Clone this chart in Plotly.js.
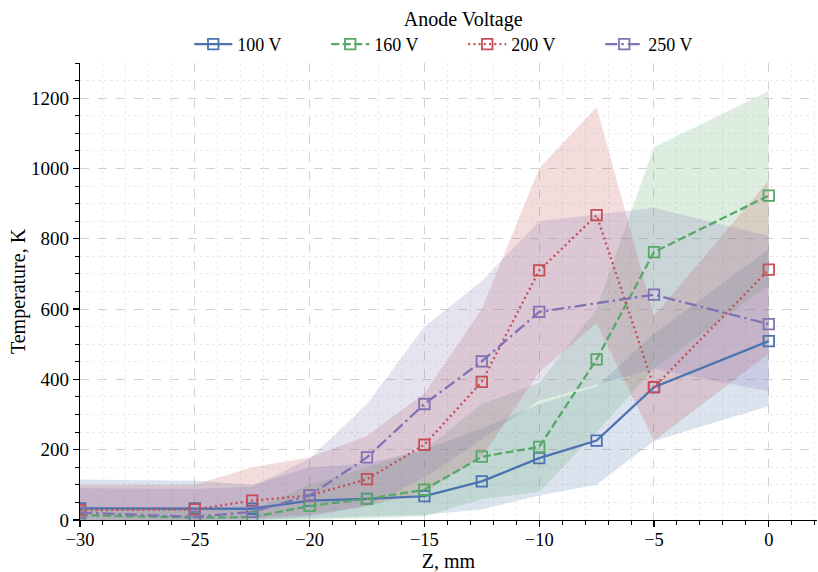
<!DOCTYPE html>
<html>
<head>
<meta charset="utf-8">
<script src="https://cdn.plot.ly/plotly-3.0.1.min.js"></script>
<style>html,body{margin:0;padding:0;background:#fff}#chart{width:818px;height:572px}</style>
</head>
<body>
<div id="chart"></div>
<script>
// Data
const zAll = [-30, -25, -22.5, -20, -17.5, -15, -12.5, -10, -7.5, -5, 0];
const z250 = [-30, -25, -22.5, -20, -17.5, -15, -12.5, -10, -5, 0];

const t100 = [33, 33, 32, 55, 60, 68, 110, 176, 226, 378, 509];
const lo100 = [0, 0, 0, 5, 10, 15, 30, 70, 100, 225, 324];
const hi100 = [115, 112, 100, 150, 160, 200, 260, 330, 380, 530, 770];

const t160 = [14, 7, 8, 40, 60, 86, 180, 208, 457, 762, 923];
const lo160 = [0, 0, 0, 0, 5, 10, 60, 80, 250, 430, 668];
const hi160 = [40, 30, 30, 100, 150, 200, 330, 390, 600, 1060, 1220];

const t200 = [28, 30, 55, 70, 116, 214, 393, 710, 867, 378, 712];
const lo200 = [0, 0, 5, 15, 40, 80, 180, 420, 560, 225, 473];
const hi200 = [100, 100, 150, 178, 240, 360, 600, 1000, 1175, 580, 966];

const t250 = [21, 9, 23, 70, 178, 330, 451, 592, 641, 557];
const lo250 = [0, 0, 0, 10, 40, 120, 230, 340, 430, 366];
const hi250 = [90, 88, 95, 175, 330, 550, 680, 850, 888, 808];

const seriesNames = ['100 V', '160 V', '200 V', '250 V'];
const colors = ['rgb(76,114,176)', 'rgb(85,168,104)', 'rgb(196,78,82)', 'rgb(129,114,179)'];
const fills = ['rgba(76,114,176,0.2)', 'rgba(85,168,104,0.2)', 'rgba(196,78,82,0.2)', 'rgba(129,114,179,0.2)'];
const dashes = ['solid', '8px,3.5px', '2px,3.2px', '12px,4px,2.5px,4px'];

const series = [
  {x: zAll, y: t100, lo: lo100, hi: hi100},
  {x: zAll, y: t160, lo: lo160, hi: hi160},
  {x: zAll, y: t200, lo: lo200, hi: hi200},
  {x: z250, y: t250, lo: lo250, hi: hi250}
];

const traces = [];
series.forEach((s, i) => {
  traces.push({
    x: s.x.concat(s.x.slice().reverse()),
    y: s.lo.concat(s.hi.slice().reverse()),
    type: 'scatter', mode: 'lines', fill: 'toself',
    fillcolor: fills[i], line: {width: 0, color: fills[i]},
    hoverinfo: 'skip', showlegend: false
  });
});
series.forEach((s, i) => {
  traces.push({
    x: s.x, y: s.y, type: 'scatter', mode: 'lines+markers',
    name: seriesNames[i],
    line: {color: colors[i], width: 2.3, dash: dashes[i]},
    marker: {symbol: 'square-open', size: 10.5, color: colors[i], line: {width: 1.8, color: colors[i]}}
  });
});

const font = 'Liberation Serif, Times New Roman, serif';
const layout = {
  width: 818, height: 572,
  margin: {l: 80, r: 1, t: 58, b: 52},
  paper_bgcolor: '#fff', plot_bgcolor: '#fff',
  font: {family: font, size: 18, color: '#000'},
  showlegend: true,
  legend: {
    orientation: 'h', xref: 'paper', x: 0.52, xanchor: 'center',
    yref: 'container', y: 1.0, yanchor: 'top',
    title: {text: 'Anode Voltage', side: 'top center', font: {family: font, size: 20}},
    font: {family: font, size: 18}, entrywidth: 84, itemwidth: 38,
    bgcolor: 'rgba(0,0,0,0)', tracegroupgap: 0
  },
  xaxis: {
    range: [-30, 2.1], dtick: 5, tick0: 0,
    showline: true, linecolor: '#000', linewidth: 1.25, mirror: false,
    ticks: 'outside', ticklen: 6, tickwidth: 1.25, tickcolor: '#000',
    ticklabelstandoff: -3,
    showgrid: true, gridcolor: 'rgba(180,180,180,0.6)', griddash: 'dash', gridwidth: 1,
    zeroline: false,
    minor: {dtick: 1, tick0: 0, ticks: 'outside', ticklen: 3.5, tickwidth: 1, tickcolor: '#000',
            showgrid: true, gridcolor: 'rgba(200,200,200,0.35)', griddash: 'dot', gridwidth: 1},
    title: {text: 'Z, mm', font: {family: font, size: 20}, standoff: 4},
    tickfont: {family: font, size: 18.5}
  },
  yaxis: {
    range: [0, 1300], dtick: 200, tick0: 0,
    showline: true, linecolor: '#000', linewidth: 1.25, mirror: false,
    ticks: 'outside', ticklen: 6, tickwidth: 1.25, tickcolor: '#000',
    showgrid: true, gridcolor: 'rgba(180,180,180,0.6)', griddash: 'dash', gridwidth: 1,
    zeroline: false,
    minor: {dtick: 50, tick0: 0, ticks: 'outside', ticklen: 3.5, tickwidth: 1, tickcolor: '#000',
            showgrid: true, gridcolor: 'rgba(200,200,200,0.35)', griddash: 'dot', gridwidth: 1},
    title: {text: 'Temperature, K', font: {family: font, size: 20}, standoff: 0},
    tickfont: {family: font, size: 19}
  }
};

Plotly.newPlot('chart', traces, layout, {displayModeBar: false, staticPlot: true});
</script>
</body>
</html>
